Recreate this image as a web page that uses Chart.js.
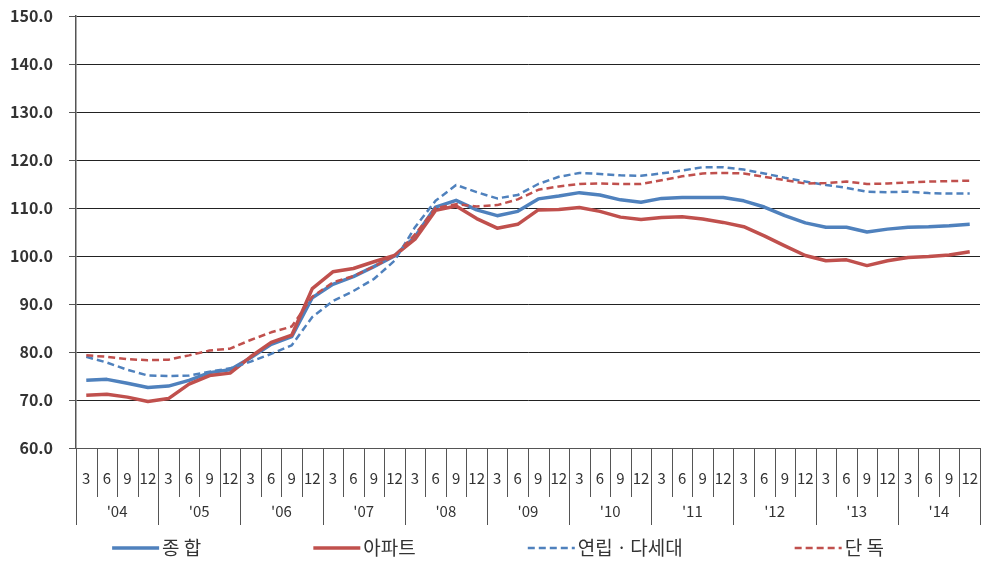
<!DOCTYPE html>
<html>
<head>
<meta charset="utf-8">
<script src="https://cdn.jsdelivr.net/npm/chart.js@4/dist/chart.umd.min.js"></script>
<style>
  html, body { margin: 0; padding: 0; background: #fff; }
  #wrap { width: 984px; height: 563px; }
</style>
</head>
<body>
<div id="wrap"><canvas id="priceChart" width="984" height="563"></canvas></div>
<script>
const years = ["'04","'05","'06","'07","'08","'09","'10","'11","'12","'13","'14"];
const months = ["3","6","9","12"];

const total = [
  74.1, 74.3, 73.5, 72.6,
  72.9, 74.1, 75.7, 76.3,
  78.8, 81.6, 83.2, 91.3,
  94.1, 95.7, 97.8, 100.0,
  104.0, 110.2, 111.6, 109.6,
  108.4, 109.3, 111.9, 112.5,
  113.2, 112.7, 111.7, 111.2,
  112.0, 112.2, 112.2, 112.2,
  111.5, 110.2, 108.4, 106.9,
  106.0, 106.0, 105.0, 105.6,
  106.0, 106.1, 106.3, 106.6
];
const apartment = [
  71.0, 71.2, 70.6, 69.7,
  70.3, 73.3, 75.1, 75.6,
  79.0, 82.0, 83.5, 93.2,
  96.7, 97.4, 98.8, 100.1,
  103.5, 109.5, 110.4, 107.8,
  105.8, 106.6, 109.6, 109.7,
  110.1, 109.3, 108.1, 107.6,
  108.0, 108.2, 107.7, 107.0,
  106.1, 104.2, 102.1, 100.1,
  99.0, 99.2, 98.0, 99.0,
  99.7, 99.9, 100.2, 100.9
];
const rowHouse = [
  79.0, 77.8, 76.3, 75.1,
  75.0, 75.1, 75.9, 76.6,
  78.0, 79.6, 81.4, 87.3,
  90.6, 92.7, 95.2, 99.0,
  106.0, 111.5, 114.8, 113.3,
  112.0, 112.7, 115.0, 116.5,
  117.3, 117.1, 116.8, 116.7,
  117.2, 117.8, 118.5, 118.5,
  118.0, 117.2, 116.3, 115.5,
  114.8, 114.2, 113.4, 113.3,
  113.4, 113.1, 113.0, 113.0
];
const detached = [
  79.3, 79.0, 78.5, 78.3,
  78.4, 79.3, 80.3, 80.7,
  82.5, 84.1, 85.3, 91.5,
  94.5, 95.8, 97.8, 100.0,
  104.5, 110.0, 110.8, 110.3,
  110.6, 111.8, 113.8, 114.5,
  115.0, 115.1, 115.0, 115.0,
  115.8, 116.6, 117.2, 117.3,
  117.2, 116.5, 115.8, 115.1,
  115.2, 115.5, 115.0, 115.1,
  115.3, 115.5, 115.6, 115.7
];

const seriesNames = ["종 합", "아파트", "연립ㆍ다세대", "단 독"];

const labels = [];
years.forEach(y => months.forEach(m => labels.push(m)));

const BLUE = "#4F81BD";
const RED = "#C0504D";
const KFONT = "'Noto Sans CJK KR', 'Noto Sans', sans-serif";

// two-level category axis (month / year) drawn under the plot
const multiAxis = {
  id: "multiAxis",
  afterDraw(chart) {
    const ctx = chart.ctx;
    const xs = chart.scales.x;
    const n = labels.length;
    const half = (xs.getPixelForValue(1) - xs.getPixelForValue(0)) / 2;
    const top = chart.chartArea.bottom;
    ctx.save();
    ctx.strokeStyle = "#555";
    ctx.lineWidth = 1;
    for (let i = 0; i <= n; i++) {
      const x = i < n ? xs.getPixelForValue(i) - half : xs.getPixelForValue(n - 1) + half;
      const len = i % months.length === 0 ? 77 : 49;
      const px = Math.round(x) + 0.5;
      ctx.beginPath();
      ctx.moveTo(px, top);
      ctx.lineTo(px, top + len);
      ctx.stroke();
    }
    ctx.fillStyle = "#333";
    ctx.textAlign = "center";
    ctx.textBaseline = "middle";
    ctx.font = "15px " + KFONT;
    labels.forEach((m, i) => {
      ctx.fillText(m, xs.getPixelForValue(i), top + 30);
    });
    years.forEach((y, k) => {
      const a = xs.getPixelForValue(k * 4);
      const b = xs.getPixelForValue(k * 4 + 3);
      ctx.fillText(y, (a + b) / 2, top + 63);
    });
    ctx.restore();
  }
};

// legend with line samples, like the spreadsheet one
const lineLegend = {
  id: "lineLegend",
  afterDraw(chart) {
    const ctx = chart.ctx;
    const sample = 47, gapText = 3, gapItem = 112;
    const y = 548;
    ctx.save();
    ctx.font = "19px " + KFONT;
    ctx.textBaseline = "middle";
    ctx.textAlign = "left";
    const sets = chart.data.datasets;
    const widths = sets.map(d => sample + gapText + ctx.measureText(d.label).width);
    const totalW = widths.reduce((a, b) => a + b, 0) + gapItem * (sets.length - 1);
    let x = chart.width / 2 - totalW / 2 + 6;
    sets.forEach((d, i) => {
      ctx.strokeStyle = d.borderColor;
      ctx.lineWidth = d.borderWidth;
      ctx.setLineDash(d.borderDash || []);
      ctx.beginPath();
      ctx.moveTo(x, y);
      ctx.lineTo(x + sample, y);
      ctx.stroke();
      ctx.setLineDash([]);
      ctx.fillStyle = "#333";
      ctx.fillText(d.label, x + sample + gapText, y);
      x += widths[i] + gapItem;
    });
    ctx.restore();
  }
};

new Chart(document.getElementById("priceChart"), {
  type: "line",
  data: {
    labels: labels,
    datasets: [
      { label: seriesNames[0], data: total, borderColor: BLUE, borderWidth: 3.5, order: 4 },
      { label: seriesNames[1], data: apartment, borderColor: RED, borderWidth: 3.5, order: 3 },
      { label: seriesNames[2], data: rowHouse, borderColor: BLUE, borderWidth: 2.5, borderDash: [7, 4], order: 2 },
      { label: seriesNames[3], data: detached, borderColor: RED, borderWidth: 2.5, borderDash: [7, 4], order: 1 }
    ].map(d => Object.assign({ pointRadius: 0, tension: 0, fill: false, borderJoinStyle: "round" }, d))
  },
  options: {
    responsive: false,
    animation: false,
    devicePixelRatio: 1,
    layout: { padding: { top: 16, right: 4, bottom: 33, left: 0 } },
    plugins: { legend: { display: false }, tooltip: { enabled: false } },
    scales: {
      x: {
        offset: true,
        grid: { display: false },
        ticks: { display: false },
        border: { display: true, color: "#555", width: 1 },
        afterFit: s => { s.height = 82; }
      },
      y: {
        min: 60,
        max: 150,
        ticks: {
          stepSize: 10,
          padding: 16,
          color: "#333",
          font: { family: KFONT, size: 16, weight: "bold" },
          callback: v => v.toFixed(1)
        },
        grid: {
          color: "#222",
          borderDash: [1, 1],
          tickLength: 7,
          tickColor: "#555",
          tickBorderDash: []
        },
        border: { display: true, color: "#555", width: 1.5 },
        afterFit: s => { s.width = 76; s.paddingTop = 0; s.paddingBottom = 0; }
      }
    }
  },
  plugins: [multiAxis, lineLegend]
});
</script>
</body>
</html>
